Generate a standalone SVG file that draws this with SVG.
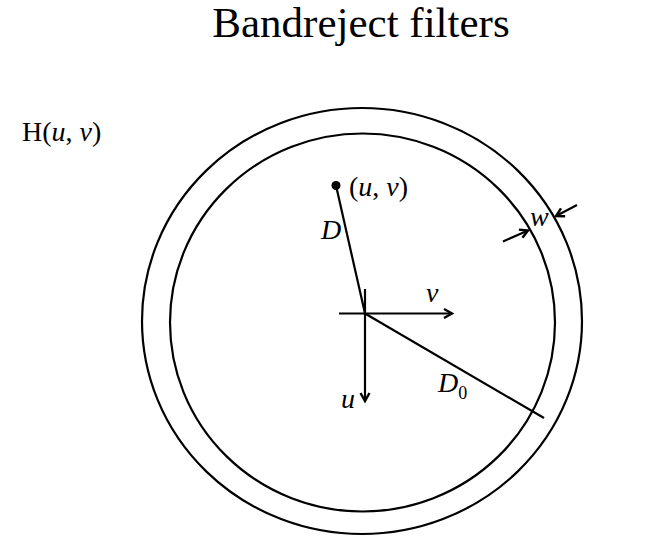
<svg xmlns="http://www.w3.org/2000/svg" width="658" height="548" viewBox="0 0 658 548">
<style>
.ln{stroke:#000;stroke-width:2.2;fill:none}
.t{font-family:"Liberation Serif","Times New Roman",serif;fill:#000}
.i{font-style:italic}
</style>
<defs>
<marker id="ah" markerUnits="userSpaceOnUse" markerWidth="14" markerHeight="14" refX="10" refY="5" orient="auto" overflow="visible">
<path d="M2,0.5 L10,5 L2,9.5" fill="none" stroke="#000" stroke-width="2.4"/>
</marker>
</defs>
<rect width="658" height="548" fill="#fff"/>
<g id="title"><text class="t" x="361" y="37" font-size="43" text-anchor="middle">Bandreject filters</text></g>
<g id="hlabel"><text class="t" x="22" y="141" font-size="28">H(<tspan class="i">u</tspan>, <tspan class="i">v</tspan>)</text></g>
<g id="outer-circle"><ellipse class="ln" cx="362" cy="321" rx="220" ry="213"/></g>
<g id="inner-circle"><ellipse class="ln" cx="362.5" cy="322.5" rx="192.5" ry="189"/></g>
<g id="point"><circle cx="336" cy="185.5" r="4.5" fill="#000"/><text class="t" x="349" y="196" font-size="28">(<tspan class="i">u</tspan>, <tspan class="i">v</tspan>)</text></g>
<g id="connectors">
<line class="ln" x1="339" y1="313.5" x2="452" y2="313.5" marker-end="url(#ah)"/>
<line class="ln" x1="365" y1="289" x2="365" y2="401" marker-end="url(#ah)"/>
<line class="ln" x1="336" y1="185.5" x2="365" y2="313.5"/>
<line class="ln" x1="365" y1="313.5" x2="544" y2="418"/>
<line class="ln" x1="503" y1="241.5" x2="528" y2="230.5" marker-end="url(#ah)"/>
<line class="ln" x1="577" y1="205" x2="556" y2="216" marker-end="url(#ah)"/>
</g>
<g id="labels">
<text class="t i" x="321" y="239" font-size="28">D</text>
<text class="t i" x="530" y="226" font-size="28">w</text>
<text class="t i" x="426" y="302" font-size="28">v</text>
<text class="t i" x="341" y="408" font-size="28">u</text>
<text class="t" x="438" y="392" font-size="28"><tspan class="i">D</tspan><tspan font-size="18" dy="7">0</tspan></text>
</g>
</svg>
